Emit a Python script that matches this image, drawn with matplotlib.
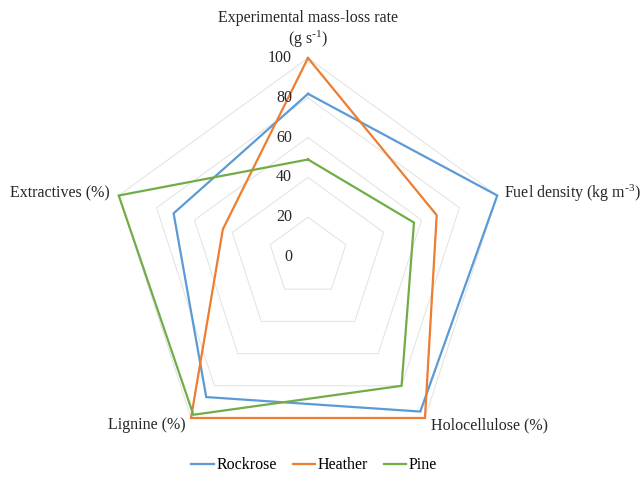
import numpy as np
import matplotlib
matplotlib.use("Agg")
import matplotlib.pyplot as plt

plt.rcParams["font.family"] = ["Liberation Serif", "DejaVu Serif"]
plt.rcParams["mathtext.default"] = "regular"

#
# Chart data
#
axis_labels = [
    "Experimental mass-loss rate\n(g s$^{\\text{-}1}$)",
    "Fuel density (kg m$^{\\text{-}3}$)",
    "Holocellulose (%)",
    "Lignine (%)",
    "Extractives (%)",
]
rockrose = [82, 100, 96, 87, 71]
heather = [100, 68, 100, 100, 45]
pine = [49, 56, 80, 98, 100]
grid_values = [20, 40, 60, 80, 100]
tick_values = [0, 20, 40, 60, 80, 100]

series_names = ["Rockrose", "Heather", "Pine"]
series_colors = ["#5B9BD5", "#ED7D31", "#70AD47"]

# Angles measured clockwise from the top
n_axes = len(axis_labels)
theta = np.arange(n_axes) * 2 * np.pi / n_axes


def to_xy(values):
    r = np.append(values, values[0])
    t = np.append(theta, theta[0])
    return r * np.sin(t), r * np.cos(t)


# Figure size (inches) and layout
figwidth = 6.41
figheight = 4.83
px_per_unit = 1.99
cx, cy = 308, 257
fs = 11.5
text_color = "#262626"

fig = plt.figure(figsize=(figwidth, figheight), dpi=100)
ax = fig.add_axes([0, 0, 1, 1])
ax.set_xlim(-cx / px_per_unit, (641 - cx) / px_per_unit)
ax.set_ylim(-(483 - cy) / px_per_unit, cy / px_per_unit)
ax.axis("off")

# Pentagon grid
for g in grid_values:
    gx, gy = to_xy(np.full(n_axes, g))
    ax.plot(gx, gy, c="#E3E3E3", linewidth=0.75, zorder=1)

# Series
for name, vals, col in zip(series_names, [rockrose, heather, pine], series_colors):
    sx, sy = to_xy(np.array(vals, dtype=float))
    ax.plot(sx, sy, c=col, linewidth=1.6, label=name, zorder=3,
            solid_joinstyle="miter")

# Radial tick labels
for v in tick_values:
    ax.text(-8.0, v, str(v), ha="right", va="center", fontsize=fs,
            color=text_color, zorder=4)

# Axis labels
ax.text(0, 114.2, axis_labels[0], ha="center", va="center", fontsize=fs,
        color=text_color, linespacing=1.15)
ax.text(98.5, 32.2, axis_labels[1], ha="left", va="center", fontsize=fs,
        color=text_color)
ax.text(62.0, -84.4, axis_labels[2], ha="left", va="center", fontsize=fs,
        color=text_color)
ax.text(-61.3, -84.4, axis_labels[3], ha="right", va="center", fontsize=fs,
        color=text_color)
ax.text(-99.5, 32.2, axis_labels[4], ha="right", va="center", fontsize=fs,
        color=text_color)

fig.legend(loc="center", bbox_to_anchor=(0.49, 0.037), ncol=3, frameon=False,
           fontsize=fs, handlelength=1.4, handletextpad=0.15, columnspacing=1.0)

plt.savefig("out.png", dpi=100)
